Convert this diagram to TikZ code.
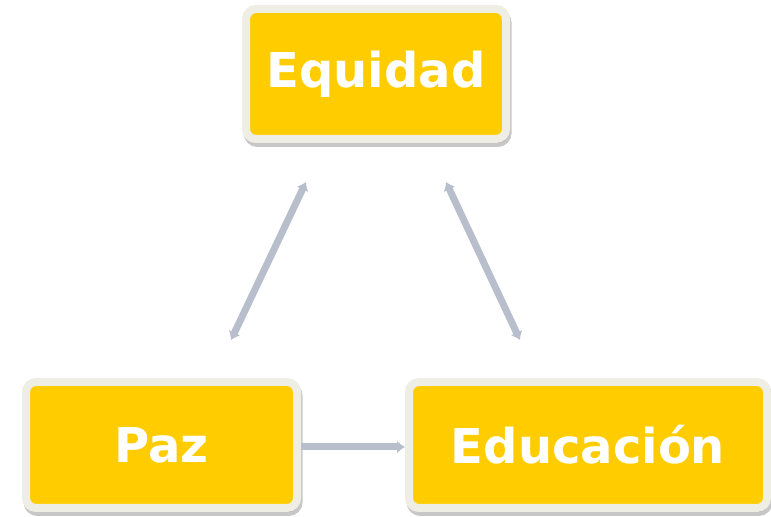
\documentclass[tikz,border=0pt]{standalone}
\usepackage{fontspec}
\newfontfamily\boxfont{DejaVu Sans}
\usetikzlibrary{arrows.meta}
\usetikzlibrary{shadows}
\definecolor{boxyellow}{RGB}{255,204,0}
\definecolor{boxrim}{RGB}{238,238,228}
\definecolor{linkgray}{RGB}{184,190,204}

\begin{document}
\begin{tikzpicture}[x=0.5pt, y=-0.5pt,
  concept/.style={draw=boxrim, line width=4pt, fill=boxyellow, rounded corners=5pt,
    text=white, font=\boxfont\bfseries\fontsize{24}{28}\selectfont,
    drop shadow={shadow xshift=0.8pt, shadow yshift=-2pt, opacity=0.22,
      fill=black, draw=black, line width=4pt}},
  link/.style={draw=linkgray, line width=3.5pt},
  >={Latex[length=4pt,width=6.5pt]}]

\useasboundingbox (0,0) rectangle (771,517);

\node[concept, minimum width=130pt, minimum height=65pt] (equidad) at (376,74) {Equidad};
\node[concept, minimum width=135.5pt, minimum height=63pt] (paz) at (161.5,445) {Paz};
\node[concept, minimum width=179pt, minimum height=63pt] (educacion) at (588,445) {Educación};

\coordinate (pazTop) at (231,340);
\coordinate (eqLeft) at (306,182);
\coordinate (eqRight) at (446,182);
\coordinate (eduTop) at (520,340);

\draw[link, <->] (pazTop) -- (eqLeft);
\draw[link, <->] (eqRight) -- (eduTop);
\draw[link, ->] ([yshift=-1pt]paz.east) -- ([yshift=-1pt]educacion.west);
\end{tikzpicture}
\end{document}
